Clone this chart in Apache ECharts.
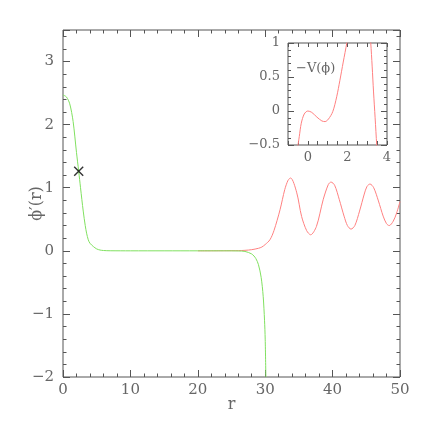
<!DOCTYPE html>
<html>
<head>
<meta charset="utf-8">
<script src="https://cdn.jsdelivr.net/npm/echarts@6/dist/echarts.min.js"></script>
<style>
html, body { margin: 0; padding: 0; background: #fff; }
#chart { width: 436px; height: 436px; }
</style>
</head>
<body>
<div id="chart"></div>
<script>
// phi'(r) profiles: green = undershoot solution, red = overshoot solution
const greenR = [0, 0.5, 1.0, 1.5, 2.0, 2.33, 2.6, 3.0, 3.3, 3.5, 3.75, 4.0, 4.5, 5.0, 5.5, 6.0, 7.0, 10, 15, 20, 24, 26, 27, 28, 28.6, 29.0, 29.4, 29.7, 29.9, 30.0, 30.1];
const greenPhi = [2.47, 2.44, 2.33, 2.05, 1.56, 1.26, 1.00, 0.63, 0.40, 0.28, 0.175, 0.12, 0.068, 0.03, 0.012, 0.005, 0.001, 0, 0, 0, 0, -0.002, -0.01, -0.05, -0.12, -0.22, -0.42, -0.72, -1.1, -1.4, -2.0];

const redR = [20, 26, 27, 28, 29, 29.5, 30, 30.7, 31.3, 32.2, 32.9, 33.4, 33.77, 34.66, 35.4, 36.15, 36.74, 37.6, 38.6, 39.36, 39.76, 40.3, 41, 41.7, 42.2, 42.73, 43.3, 44, 44.7, 45.1, 45.55, 46.1, 46.8, 47.5, 48, 48.4, 49, 49.5, 50];
const redPhi = [0, 0.003, 0.008, 0.018, 0.04, 0.06, 0.10, 0.175, 0.32, 0.65, 0.97, 1.12, 1.154, 0.93, 0.545, 0.32, 0.254, 0.386, 0.81, 1.05, 1.09, 1.04, 0.81, 0.55, 0.40, 0.344, 0.40, 0.63, 0.90, 1.02, 1.059, 1.00, 0.79, 0.55, 0.43, 0.40, 0.47, 0.60, 0.78];

// marked point
const markR = [2.33];
const markPhi = [1.26];

// inset: -V(phi), two branches (curve leaves the box above 1)
const potPhiA = [-0.52, -0.43, -0.33, -0.18, 0, 0.2, 0.46, 0.71, 0.87, 1.04, 1.26, 1.46, 1.62, 1.79, 1.97, 2.05];
const potVA = [-0.55, -0.375, -0.18, -0.044, 0, -0.02, -0.09, -0.146, -0.156, -0.12, -0.01, 0.21, 0.45, 0.72, 1.0, 1.14];
const potPhiB = [3.15, 3.18, 3.25, 3.32, 3.40, 3.48, 3.51];
const potVB = [1.12, 1.0, 0.66, 0.28, -0.1, -0.5, -0.62];

// tick labels
const mainXLabels = [0, 10, 20, 30, 40, 50];
const mainYLabels = [-2, -1, 0, 1, 2, 3];
const insetXLabels = [0, 2, 4];
const insetYLabels = [-0.5, 0, 0.5, 1];

const FONT = 'DejaVu Serif';
const TXT = '#666';
const FRAME = '#555';

function zip(a, b) {
  return a.map((v, i) => [v, b[i]]);
}

function fmt(list) {
  return v => list.indexOf(v) < 0 ? '' : (v < 0 ? '\u2212' + Math.abs(v) : String(v));
}

function axis(grid, pos, min, max, step, tickLen, extra) {
  return Object.assign({
    type: 'value', gridIndex: grid, position: pos,
    min: min, max: max, interval: step,
    splitLine: { show: false },
    axisLine: { show: false, onZero: false },
    axisTick: { show: tickLen > 0, inside: true, length: tickLen, lineStyle: { color: FRAME } },
    axisLabel: { show: false }
  }, extra || {});
}

function labels(list, size, margin) {
  return { show: true, formatter: fmt(list), fontFamily: FONT, fontSize: size, color: TXT, margin: margin };
}

const chart = echarts.init(document.getElementById('chart'));

chart.setOption({
  animation: false,
  grid: [
    { left: 63, top: 30, right: 36, bottom: 59, show: true, borderColor: FRAME, borderWidth: 1, outerBoundsMode: 'none' },
    { left: 288, top: 43, width: 99, height: 102, show: true, backgroundColor: '#fff', borderColor: FRAME, borderWidth: 1, outerBoundsMode: 'none' }
  ],
  xAxis: [
    axis(0, 'bottom', 0, 50, 10, 7, {
      axisLabel: labels(mainXLabels, 15, 6),
      name: 'r', nameLocation: 'middle', nameGap: 20, nameMoveOverlap: false,
      nameTextStyle: { fontFamily: FONT, fontSize: 16, color: TXT }
    }),
    axis(0, 'bottom', 0, 50, 2, 3.5),
    axis(0, 'top', 0, 50, 10, 7),
    axis(0, 'top', 0, 50, 2, 3.5),
    axis(1, 'bottom', -1, 4, 1, 0, { axisLabel: labels(insetXLabels, 13, 6) }),
    axis(1, 'bottom', -1, 4, 0.5, 4),
    axis(1, 'top', -1, 4, 0.5, 4)
  ],
  yAxis: [
    axis(0, 'left', -2, 3.5, 1, 7, {
      axisLabel: labels(mainYLabels, 15, 9),
      name: 'ϕ\u2032(r)', nameLocation: 'middle', nameGap: 18, nameRotate: 90, nameMoveOverlap: false,
      nameTextStyle: { fontFamily: FONT, fontSize: 16, color: TXT }
    }),
    axis(0, 'left', -2, 3.5, 0.2, 3.5),
    axis(0, 'right', -2, 3.5, 1, 7),
    axis(0, 'right', -2, 3.5, 0.2, 3.5),
    axis(1, 'left', -0.5, 1, 0.5, 6, { axisLabel: labels(insetYLabels, 13, 8) }),
    axis(1, 'left', -0.5, 1, 0.1, 3),
    axis(1, 'right', -0.5, 1, 0.5, 6),
    axis(1, 'right', -0.5, 1, 0.1, 3)
  ],
  series: [
    {
      type: 'line', xAxisIndex: 0, yAxisIndex: 0,
      data: zip(redR, redPhi), showSymbol: false, smooth: 0.3,
      lineStyle: { color: '#ff8080', width: 1 }, z: 2
    },
    {
      type: 'line', xAxisIndex: 0, yAxisIndex: 0,
      data: zip(greenR, greenPhi), showSymbol: false, smooth: 0.3,
      lineStyle: { color: '#80e060', width: 1 }, z: 3
    },
    {
      type: 'scatter', xAxisIndex: 0, yAxisIndex: 0,
      data: zip(markR, markPhi),
      symbol: 'path://M0,1L1,0L5,4L9,0L10,1L6,5L10,9L9,10L5,6L1,10L0,9L4,5Z',
      symbolSize: 10, itemStyle: { color: '#000' }, z: 4
    },
    {
      type: 'line', xAxisIndex: 4, yAxisIndex: 4,
      data: zip(potPhiA, potVA), showSymbol: false, smooth: 0.3,
      lineStyle: { color: '#ff8080', width: 1 }, z: 5
    },
    {
      type: 'line', xAxisIndex: 4, yAxisIndex: 4,
      data: zip(potPhiB, potVB), showSymbol: false, smooth: 0.3,
      lineStyle: { color: '#ff8080', width: 1 }, z: 5
    }
  ],
  graphic: [
    {
      type: 'text', left: 296, top: 62, z: 10,
      style: { text: '\u2212V(ϕ)', font: '13px "DejaVu Serif"', fill: TXT }
    }
  ]
});
</script>
</body>
</html>
